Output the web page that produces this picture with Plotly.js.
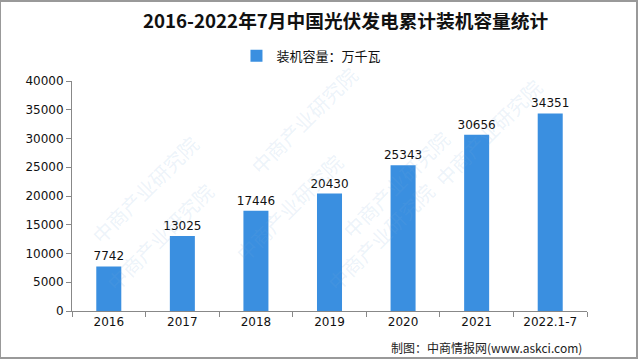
<!DOCTYPE html>
<html><head><meta charset="utf-8">
<script src="https://cdn.plot.ly/plotly-3.0.1.min.js"></script>
<style>html,body{margin:0;padding:0;background:#fff;}#c{width:640px;height:363px;}</style>
</head><body><div id="c"></div>
<script>
const categories = ["2016","2017","2018","2019","2020","2021","2022.1-7"];
const capacity = [7742,13025,17446,20430,25343,30656,34351];
const yTicks = [0,5000,10000,15000,20000,25000,30000,35000,40000];
const seriesName = "装机容量：万千瓦";
const titleText = "2016-2022年7月中国光伏发电累计装机容量统计";
const sourceText = "制图：中商情报网(www.askci.com)";
const watermark = "中商产业研究院";

const font = "'Noto Sans CJK SC', 'DejaVu Sans', sans-serif";
const wmPos = [[0.02,0.8],[0.45,1.1],[0.93,1.05],[0.3,0.45],[0.75,0.55],[0.05,0.05],[0.6,0.05]];
const annotations = [
  {text: sourceText, xref:"paper", yref:"paper", x:0.995, y:-0.115, xanchor:"right", yanchor:"top", showarrow:false, font:{family:font,size:12,color:"#222"}}
].concat(wmPos.map(p=>({text:watermark, xref:"paper", yref:"paper", x:p[0], y:p[1], showarrow:false, textangle:-45, font:{family:font,size:20,color:"rgba(120,170,220,0.15)"}})));

Plotly.newPlot("c", [{
  type:"bar", x:categories, y:capacity, name:seriesName,
  marker:{color:"#3a8fe0"},
  text: capacity.map(String), textposition:"outside", cliponaxis:false, constraintext:"none",
  textfont:{family:"'DejaVu Sans', sans-serif", size:12, color:"#111"}
}], {
  width:640, height:363,
  margin:{l:72, r:53, t:81, b:52},
  paper_bgcolor:"#fff", plot_bgcolor:"#fff",
  title:{text:titleText, x:0.54, xanchor:"center", y:0.94, yanchor:"middle", font:{family:font, size:18.7, color:"#111", weight:"bold"}},
  showlegend:true,
  legend:{orientation:"h", x:0.465, xanchor:"center", y:1.11, yanchor:"middle", font:{family:font,size:13,color:"#111"}, itemwidth:30},
  bargap:0.66,
  xaxis:{type:"category", showline:true, linecolor:"#888", linewidth:1, ticks:"outside", tickson:"boundaries", ticklen:5, tickcolor:"#888", tickfont:{family:"'DejaVu Sans', sans-serif", size:12, color:"#111"}, showgrid:false},
  yaxis:{range:[0,40000], tickvals:yTicks, ticktext:yTicks.map(String), showline:true, linecolor:"#888", linewidth:1, ticks:"outside", ticklen:5, tickcolor:"#888", showgrid:false, zeroline:false, tickfont:{family:"'DejaVu Sans', sans-serif", size:12, color:"#111"}},
  annotations: annotations,
  shapes:[{type:"rect", xref:"paper", yref:"paper", x0:-72/515, x1:1+50/515, y0:-47/230, y1:1+80/230, line:{color:"#999", width:2}}]
}, {displayModeBar:false, staticPlot:true});
</script></body></html>
